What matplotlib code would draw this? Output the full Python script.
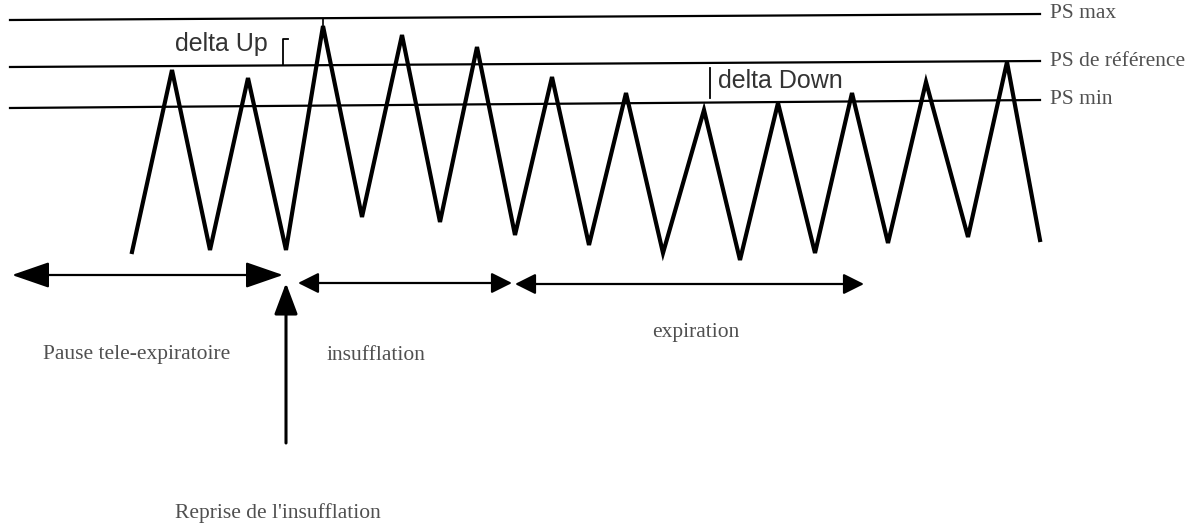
import matplotlib
matplotlib.use("Agg")
import matplotlib.pyplot as plt

# sommets du trace de pression (pixels du schema)
trace_x = [132, 172, 210, 248, 286, 323, 362, 402, 440, 477, 515, 552, 589,
           626, 663, 704, 740, 778, 815, 852, 888, 926, 968, 1007, 1040]
trace_y = [252, 70, 250, 78, 250, 26, 217, 35, 222, 47, 235, 77, 245,
           93, 253, 110, 260, 103, 253, 93, 243, 82, 237, 62, 240]

# lignes de reference : (y gauche, y droite)
ref_names = ["PS max", "PS de référence", "PS min"]
ref_left = [20, 67, 108]
ref_right = [14, 61, 100]
ref_x0, ref_x1 = 10, 1040

# fleches de phase
phase_names = ["Pause tele-expiratoire", "insufflation", "expiration"]
phase_x0 = [12, 298, 515]
phase_x1 = [283, 512, 864]
phase_y = [275, 283, 284]
phase_text_x = [137, 376, 696]
phase_text_y = [354, 356, 332]

fig = plt.figure(figsize=(12.04, 5.28), dpi=100)
ax = fig.add_axes([0, 0, 1, 1])
ax.set_xlim(0, 1204)
ax.set_ylim(528, 0)
ax.axis("off")

serif = dict(family="Liberation Serif", color="#505050", fontsize=15.5)

for name, yl, yr in zip(ref_names, ref_left, ref_right):
    ax.plot([ref_x0, ref_x1], [yl, yr], color="black", lw=1.6)
    ax.text(ref_x1 + 10, yr, name, va="center", ha="left", **serif)

ax.plot(trace_x, trace_y, color="black", lw=3.0, solid_joinstyle="miter")
# petit trait du pic qui touche PS max
ax.plot([323, 323], [26, 19], color="black", lw=1.2)

# delta Up / delta Down
ax.text(221, 44, "delta Up", ha="center", va="center", fontsize=18,
        family="Liberation Sans", color="#333333")
ax.plot([288, 283, 283], [39, 39, 65], color="black", lw=1.3)
ax.text(718, 81, "delta Down", ha="left", va="center", fontsize=18,
        family="Liberation Sans", color="#333333")
ax.plot([710, 710], [68, 98], color="black", lw=1.3)

# fleches horizontales
for i, (x0, x1, y) in enumerate(zip(phase_x0, phase_x1, phase_y)):
    if i == 0:
        style = "<|-|>,head_length=1.3,head_width=0.45"
        ms = 18
    else:
        style = "<|-|>,head_length=0.9,head_width=0.45"
        ms = 14
    ax.annotate("", xy=(x1, y), xytext=(x0, y),
                arrowprops=dict(arrowstyle=style, mutation_scale=ms,
                                color="black", lw=1.6, shrinkA=0, shrinkB=0))
    ax.text(phase_text_x[i], phase_text_y[i], phase_names[i],
            ha="center", va="center", **serif)

# reprise de l'insufflation
ax.annotate("", xy=(286, 283), xytext=(286, 443),
            arrowprops=dict(arrowstyle="-|>,head_length=1.2,head_width=0.45",
                            mutation_scale=16, color="black", lw=2.2,
                            shrinkA=0, shrinkB=0))
ax.text(278, 513, "Reprise de l'insufflation", ha="center", va="center", **serif)

fig.savefig("out.png", dpi=100, facecolor="white")
